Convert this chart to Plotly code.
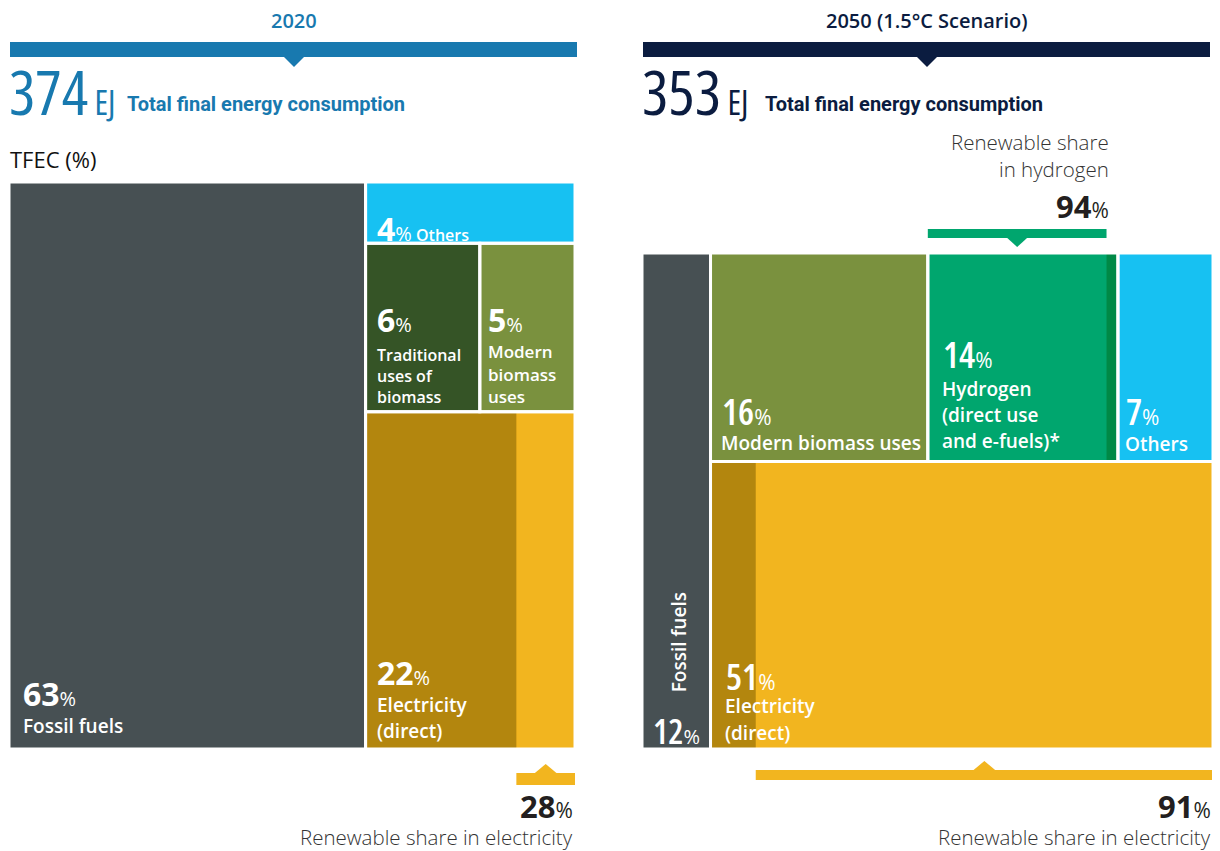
import plotly.graph_objects as go

W, H = 1220, 851
PAGE = 8  # default body margin of the html page

# ---- data (read from the infographic) ----
cats_2020 = ["Fossil fuels", "Others", "Traditional uses of biomass", "Modern biomass uses", "Electricity (direct)"]
share_2020 = [63, 4, 6, 5, 22]
renew_elec_2020 = 28
total_2020 = 374

cats_2050 = ["Fossil fuels", "Modern biomass uses", "Hydrogen (direct use and e-fuels)*", "Others", "Electricity (direct)"]
share_2050 = [12, 16, 14, 7, 51]
renew_h2_2050 = 94
renew_elec_2050 = 91
total_2050 = 353

# ---- styles ----
BLUE = "#1879AF"
NAVY = "#0B1C40"
FOSSIL = "#475053"
CYAN = "#17C1F2"
TRAD = "#355426"
MODERN = "#7A913E"
GOLD_D = "#B3860E"
GOLD = "#F2B51F"
H2 = "#00A66E"
H2_D = "#008946"
INK = "#231F20"
GREY = "#333333"

BODY = "Open Sans, Lato, sans-serif"
HEAD = "Roboto, Open Sans, sans-serif"
COND = "font-stretch:75%"


def px(x):
    return (x - PAGE) / W


def py(y):
    return 1 - (y - PAGE) / H


fig = go.Figure()

# ---- treemap geometry computed from the shares (axis units 0..100) ----
fos, oth, trad, mod, ele = share_2020
col = oth + trad + mod + ele
xs = fos / (fos + col) * 100
yo = oth / col * 100
yb = yo + (trad + mod) / col * 100
xt = xs + (100 - xs) * trad / (trad + mod)
xr20 = 100 - (100 - xs) * renew_elec_2020 / 100
cells20 = {
    "fossil": (0, xs, 0, 100, FOSSIL),
    "others": (xs, 100, 0, yo, CYAN),
    "trad": (xs, xt, yo, yb, TRAD),
    "modern": (xt, 100, yo, yb, MODERN),
    "elec": (xs, 100, yb, 100, GOLD),
}
sub20 = [(xs, xr20, yb, 100, GOLD_D)]

f5, b5, h5, o5, e5 = share_2050
rest = b5 + h5 + o5 + e5
xf = f5 / (f5 + rest) * 100
top = b5 + h5 + o5
yt = top / rest * 100
xb = xf + (100 - xf) * b5 / top
xh = xb + (100 - xf) * h5 / top
xhr = xb + (xh - xb) * renew_h2_2050 / 100
xer = 100 - (100 - xf) * renew_elec_2050 / 100
cells50 = {
    "fossil": (0, xf, 0, 100, FOSSIL),
    "bio": (xf, xb, 0, yt, MODERN),
    "h2": (xb, xh, 0, yt, H2),
    "others": (xh, 100, 0, yt, CYAN),
    "elec": (xf, 100, yt, 100, GOLD),
}
sub50 = [(xhr, xh, 0, yt, H2_D), (xf, xer, yt, 100, GOLD_D)]


def draw_cells(xr, yr, cells, subs):
    for x0, x1, y0, y1, c in list(cells.values()) + subs:
        fig.add_shape(type="rect", xref=xr, yref=yr, x0=x0, x1=x1, y0=y0, y1=y1,
                      fillcolor=c, line=dict(width=0), layer="above")
    for x0, x1, y0, y1, c in cells.values():
        fig.add_shape(type="rect", xref=xr, yref=yr, x0=x0, x1=x1, y0=y0, y1=y1,
                      fillcolor="rgba(0,0,0,0)", line=dict(color="white", width=3), layer="above")


draw_cells("x", "y", cells20, sub20)
draw_cells("x2", "y2", cells50, sub50)


def text(xr, yr, x, y, t, size, color="white", family=BODY, weight=600,
         xanchor="left", xshift=0, yshift=0, angle=0):
    fig.add_annotation(xref=xr, yref=yr, x=x, y=y, text=t, showarrow=False,
                       xanchor=xanchor, yanchor="middle", xshift=xshift, yshift=yshift,
                       textangle=angle, font=dict(family=family, size=size, color=color, weight=weight))


def lines(xr, yr, x, y, rows, size, gap, xshift, ybottom, color="white", xanchor="left"):
    n = len(rows)
    for i, r in enumerate(rows):
        text(xr, yr, x, y, r, size, color=color, xanchor=xanchor,
             xshift=xshift, yshift=ybottom + (n - 1 - i) * gap)


def pct20(v, ps=20):
    return f"<b>{v}</b><span style='font-size:{ps}px;font-weight:400'>%</span>"


def pct50(v, ps=21):
    return f"<span style='{COND}'>{v}</span><span style='font-size:{ps}px;font-weight:400'>%</span>"


# ---- 2020 labels ----
c = cells20
text("x", "y", c["fossil"][0], 100, pct20(fos), 32, xshift=12, yshift=56)
text("x", "y", c["fossil"][0], 100, "Fossil fuels", 19, xshift=12, yshift=23)
text("x", "y", c["others"][0], c["others"][3],
     f"<b><span style='font-size:32px'>{oth}</span></b><span style='font-size:20px;font-weight:400'>%</span> Others",
     16, xshift=9, yshift=15)
text("x", "y", c["trad"][0], c["trad"][3], pct20(trad), 32, xshift=9, yshift=92)
lines("x", "y", c["trad"][0], c["trad"][3], ["Traditional", "uses of", "biomass"], 16, 21, 9, 15)
text("x", "y", c["modern"][0], c["modern"][3], pct20(mod), 32, xshift=6, yshift=92)
lines("x", "y", c["modern"][0], c["modern"][3], ["Modern", "biomass", "uses"], 17, 22.5, 6, 15)
text("x", "y", c["elec"][0], 100, pct20(ele), 32, xshift=9, yshift=77)
lines("x", "y", c["elec"][0], 100, ["Electricity", "(direct)"], 19, 26, 9, 18)

# ---- 2050 labels ----
c = cells50
text("x2", "y2", c["fossil"][1] / 2, 100, "Fossil fuels", 19, xanchor="center", xshift=3, yshift=107, angle=-90)
text("x2", "y2", c["fossil"][1] / 2, 100, pct50(f5, 20), 34, xanchor="center", yshift=18)
text("x2", "y2", c["bio"][0], yt, pct50(b5), 36, xshift=9, yshift=50)
text("x2", "y2", c["bio"][0], yt, "Modern biomass uses", 19, xshift=8, yshift=19)
text("x2", "y2", c["h2"][0], yt, pct50(h5), 36, xshift=13, yshift=107)
lines("x2", "y2", c["h2"][0], yt, ["Hydrogen", "(direct use", "and e-fuels)*"], 19, 26, 12, 21)
text("x2", "y2", c["others"][0], yt, pct50(o5), 36, xshift=6, yshift=50)
text("x2", "y2", c["others"][0], yt, "Others", 19, xshift=5, yshift=18)
text("x2", "y2", c["elec"][0], 100, pct50(e5), 36, xshift=13, yshift=73)
lines("x2", "y2", c["elec"][0], 100, ["Electricity", "(direct)"], 19, 27, 12, 16)

# ---- headers ----
for cx, x0, x1, col_, title, total, tx in [
    (294, 10, 577, BLUE, "2020", total_2020, 125),
    (927, 643, 1210, NAVY, "2050 (1.5°C Scenario)", total_2050, 763),
]:
    fig.add_annotation(xref="paper", yref="paper", x=px(cx), y=py(21), text=title, showarrow=False,
                       xanchor="center", yanchor="middle",
                       font=dict(family=BODY, size=20, color=col_, weight=600))
    fig.add_shape(type="rect", xref="paper", yref="paper", x0=px(x0), x1=px(x1), y0=py(57), y1=py(42),
                  fillcolor=col_, line=dict(width=0))
    fig.add_shape(type="path", xref="paper", yref="paper", xsizemode="pixel", ysizemode="pixel",
                  xanchor=px(cx), yanchor=py(56), path="M-11,0 L0,-11 L11,0 Z",
                  fillcolor=col_, line=dict(width=0))
    fig.add_annotation(xref="paper", yref="paper", x=px(x0 - 3), y=py(91),
                       text=f"<span style='{COND};font-size:62px'>{total}</span>"
                            f"<span style='{COND};font-size:34px'> EJ</span>",
                       showarrow=False, xanchor="left", yanchor="middle",
                       font=dict(family=BODY, size=34, color=col_, weight=400))
    fig.add_annotation(xref="paper", yref="paper", x=px(tx), y=py(104), text="Total final energy consumption",
                       showarrow=False, xanchor="left", yanchor="middle",
                       font=dict(family=HEAD, size=20, color=col_, weight=700))

fig.add_annotation(xref="paper", yref="paper", x=px(8), y=py(159), text="TFEC (%)", showarrow=False,
                   xanchor="left", yanchor="middle", font=dict(family=BODY, size=22, color="#111111", weight=500))


# ---- renewable share brackets ----
def bracket(xr, x0, x1, ytop, ybot, color, up):
    fig.add_shape(type="rect", xref=xr, yref="paper", x0=x0, x1=x1, y0=py(ybot), y1=py(ytop),
                  fillcolor=color, line=dict(width=0))
    if up:
        fig.add_shape(type="path", xref=xr, yref="paper", xsizemode="pixel", ysizemode="pixel",
                      xanchor=(x0 + x1) / 2, yanchor=py(ytop + 1), path="M-12,0 L0,10 L12,0 Z",
                      fillcolor=color, line=dict(width=0))
    else:
        fig.add_shape(type="path", xref=xr, yref="paper", xsizemode="pixel", ysizemode="pixel",
                      xanchor=(x0 + x1) / 2, yanchor=py(ybot - 1), path="M-11,0 L0,-10 L11,0 Z",
                      fillcolor=color, line=dict(width=0))


def big_pct(xr, x, y, v, xshift=0):
    fig.add_annotation(xref=xr, yref="paper", x=x, y=py(y), xshift=xshift,
                       text=f"<b>{v}</b><span style='font-size:21px;font-weight:400'>%</span>",
                       showarrow=False, xanchor="right", yanchor="middle",
                       font=dict(family=BODY, size=31, color=INK, weight=600))


def note(xr, x, y, t, xshift=0):
    fig.add_annotation(xref=xr, yref="paper", x=x, y=py(y), xshift=xshift, text=t, showarrow=False,
                       xanchor="right", yanchor="middle",
                       font=dict(family=BODY, size=20.5, color=GREY, weight=300))


bracket("x", xr20, 100, 773, 785, GOLD, True)
big_pct("x", 100, 806, renew_elec_2020)
note("x", 100, 837, "Renewable share in electricity")

bracket("x2", xer, 100, 770, 780, GOLD, True)
big_pct("x2", 100, 806, renew_elec_2050)
note("x2", 100, 837, "Renewable share in electricity")

bracket("x2", xb, xhr, 229, 238, H2, False)
big_pct("x2", xhr, 206, renew_h2_2050, xshift=4)
note("x2", xhr, 142, "Renewable share", xshift=4)
note("x2", xhr, 169, "in hydrogen", xshift=4)

# ---- axes / layout ----
fig.update_layout(
    width=W, height=H,
    margin=dict(l=0, r=0, t=0, b=0),
    paper_bgcolor="white", plot_bgcolor="white",
    showlegend=False,
    xaxis=dict(visible=False, range=[0, 100], fixedrange=True, domain=[px(9), px(575)]),
    yaxis=dict(visible=False, range=[100, 0], fixedrange=True, domain=[py(749), py(182)]),
    xaxis2=dict(visible=False, range=[0, 100], fixedrange=True, domain=[px(642), px(1213)], anchor="y2"),
    yaxis2=dict(visible=False, range=[100, 0], fixedrange=True, domain=[py(749), py(253)], anchor="x2"),
)
fig.add_trace(go.Scatter(x=[None], y=[None], xaxis="x", yaxis="y", hoverinfo="skip"))
fig.add_trace(go.Scatter(x=[None], y=[None], xaxis="x2", yaxis="y2", hoverinfo="skip"))

fig.write_html("out.html")
